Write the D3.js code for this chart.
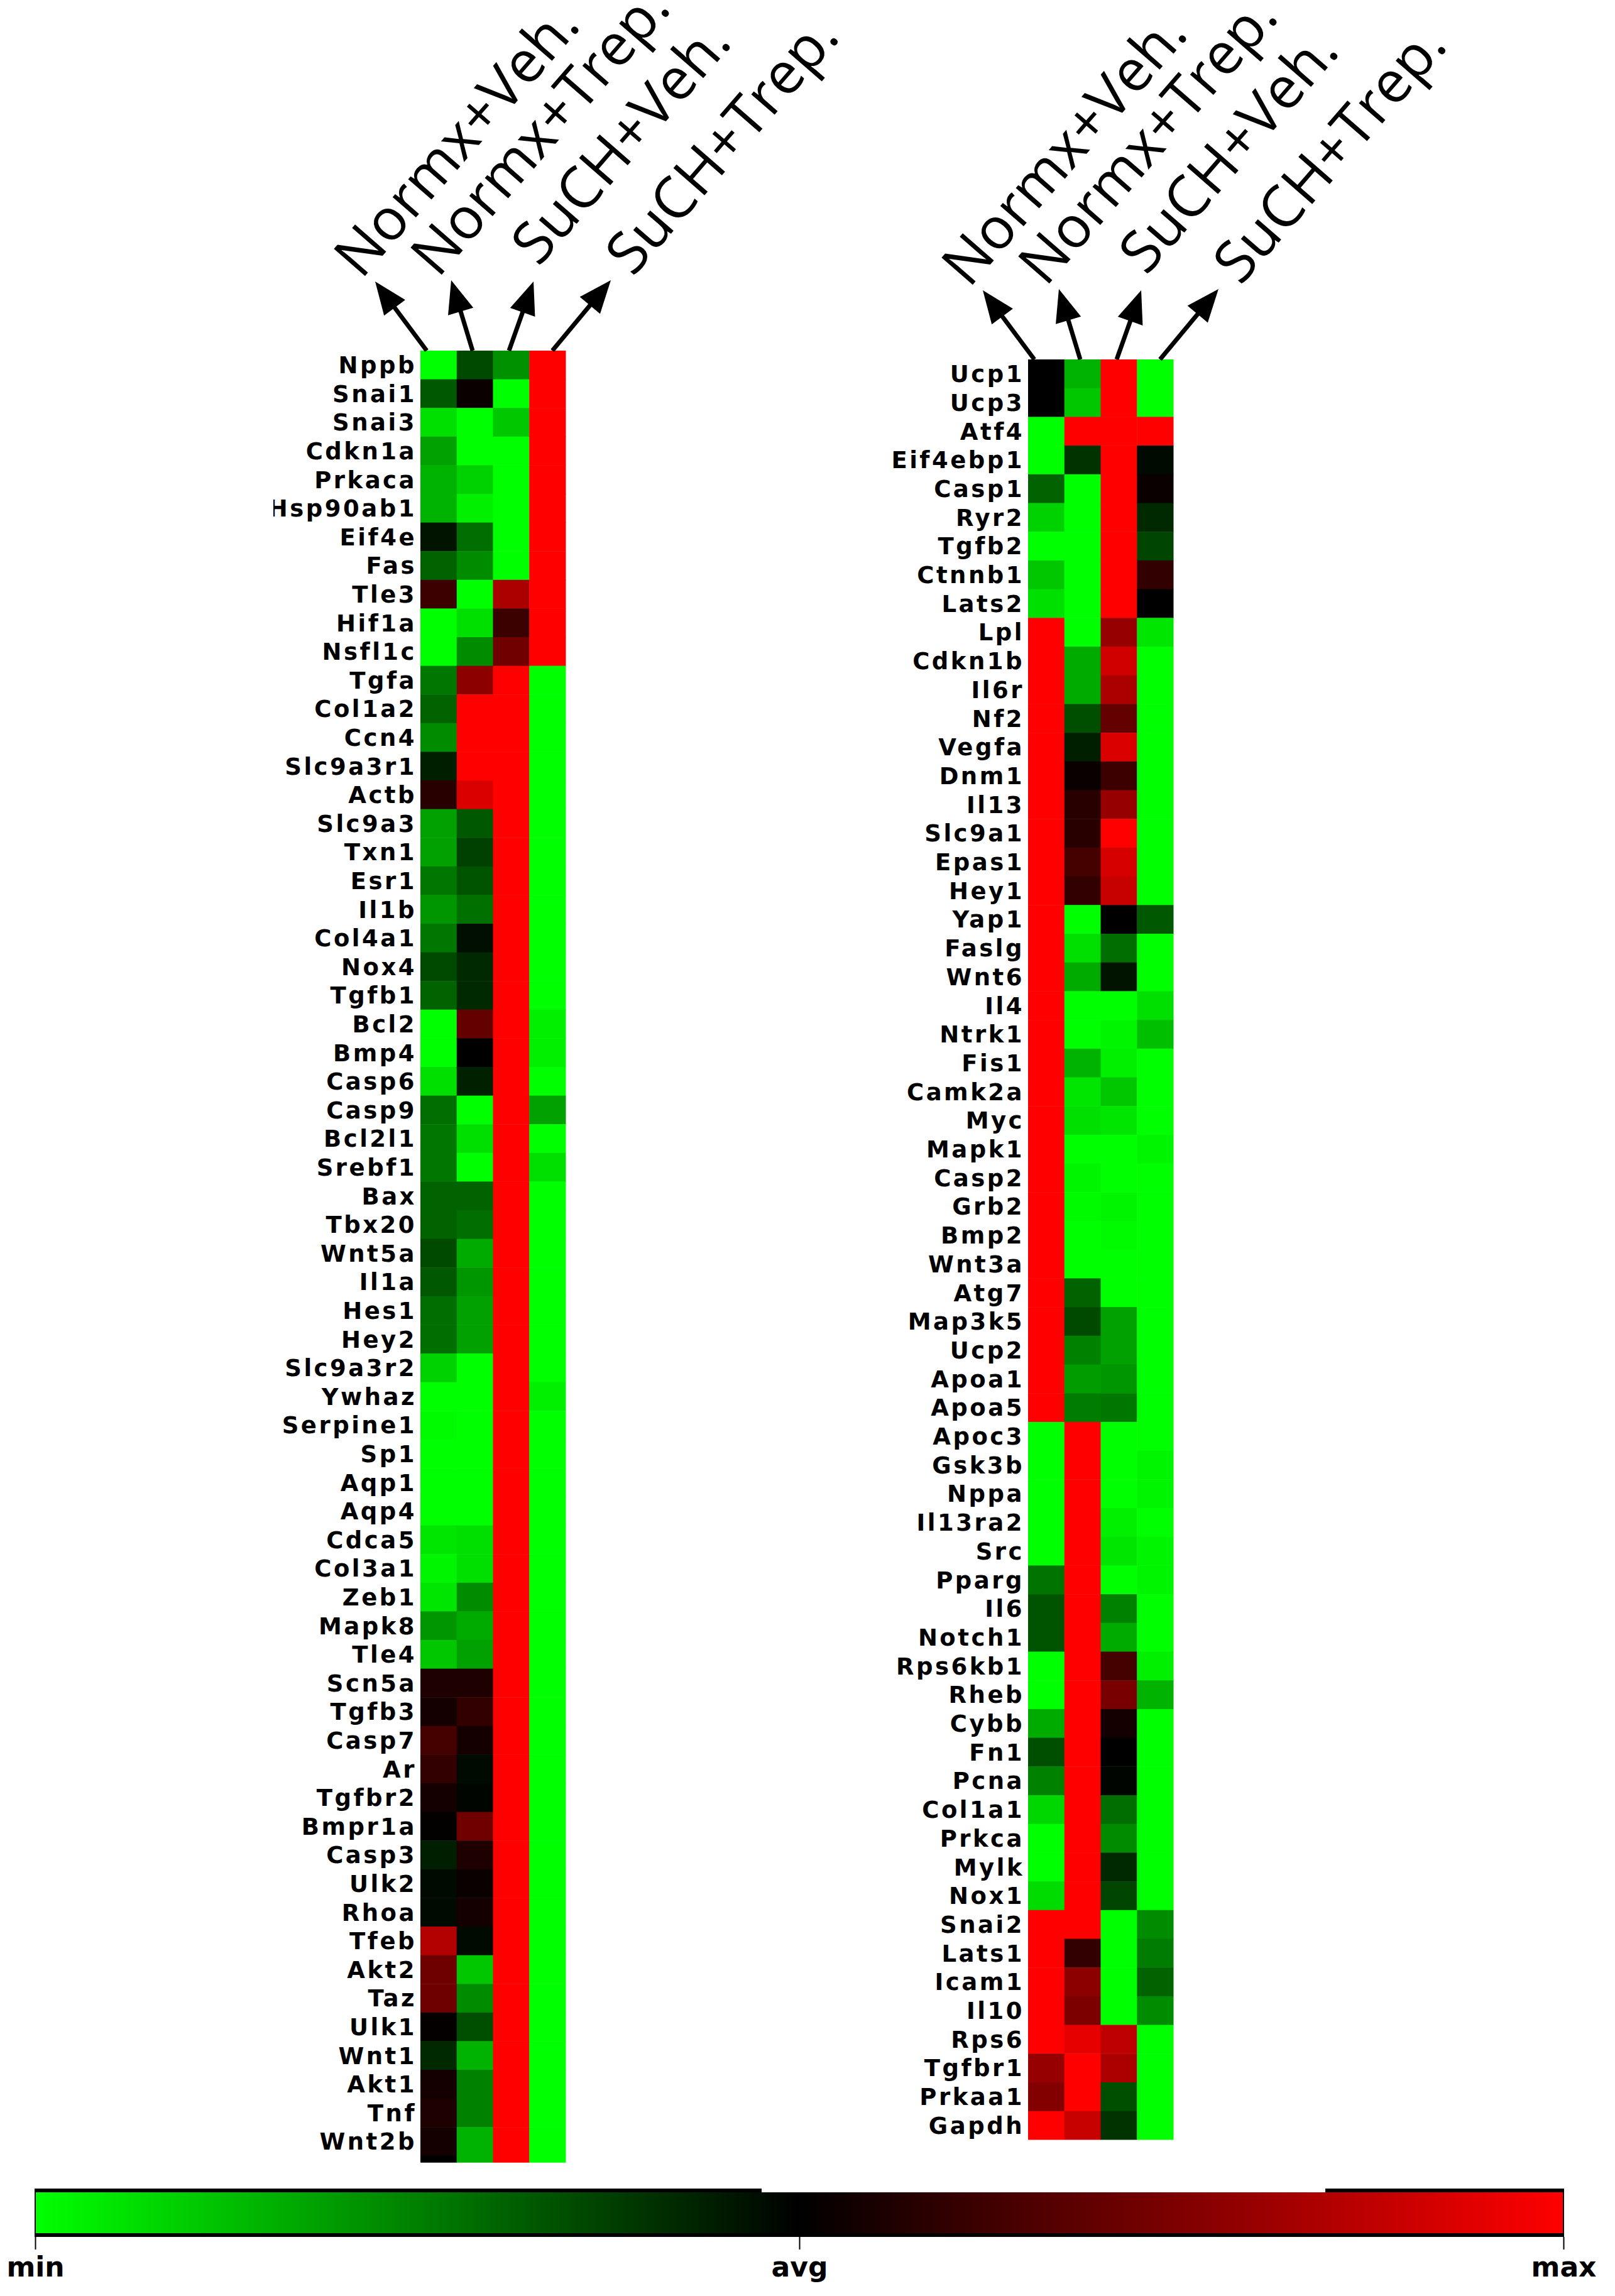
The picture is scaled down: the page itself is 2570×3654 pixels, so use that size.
<!DOCTYPE html>
<html>
  <head>
    <title>heatmap</title>
    <meta charset="utf-8" />
    <script src="https://d3js.org/d3.v7.min.js"></script>
    <style>
      body { margin: 0; background: #fff; }
    </style>
  </head>
  <body>
    <div id="chart"></div>
    <script>
      // condition columns (same for both panels)
      var conditions = ["Normx+Veh.", "Normx+Trep.", "SuCH+Veh.", "SuCH+Trep."];

      // left panel genes (last row is cut off in the original)
      var leftGenes = ["Nppb", "Snai1", "Snai3", "Cdkn1a", "Prkaca", "Hsp90ab1", "Eif4e", "Fas", "Tle3", "Hif1a",
        "Nsfl1c", "Tgfa", "Col1a2", "Ccn4", "Slc9a3r1", "Actb", "Slc9a3", "Txn1", "Esr1", "Il1b",
        "Col4a1", "Nox4", "Tgfb1", "Bcl2", "Bmp4", "Casp6", "Casp9", "Bcl2l1", "Srebf1", "Bax",
        "Tbx20", "Wnt5a", "Il1a", "Hes1", "Hey2", "Slc9a3r2", "Ywhaz", "Serpine1", "Sp1", "Aqp1",
        "Aqp4", "Cdca5", "Col3a1", "Zeb1", "Mapk8", "Tle4", "Scn5a", "Tgfb3", "Casp7", "Ar",
        "Tgfbr2", "Bmpr1a", "Casp3", "Ulk2", "Rhoa", "Tfeb", "Akt2", "Taz", "Ulk1", "Wnt1",
        "Akt1", "Tnf", "Wnt2b", ""];

      // values: -1 = min (green), 0 = avg (black), 1 = max (red)
      var leftNormxVeh = [-1, -0.35, -0.88, -0.63, -0.7, -0.7, -0.08, -0.39, 0.24, -1,
        -1, -0.47, -0.39, -0.55, -0.12, 0.16, -0.63, -0.63, -0.47, -0.59,
        -0.47, -0.29, -0.39, -1, -1, -0.88, -0.43, -0.47, -0.47, -0.39,
        -0.39, -0.29, -0.35, -0.43, -0.43, -0.82, -1, -0.98, -1, -1,
        -1, -0.9, -0.96, -0.9, -0.59, -0.78, 0.12, 0.08, 0.27, 0.2,
        0.08, 0.01, -0.12, -0.04, -0.04, 0.7, 0.43, 0.43, 0.02, -0.16,
        0.08, 0.12, 0.08, 0];
      var leftNormxTrep = [-0.29, 0.04, -1, -1, -0.82, -0.94, -0.43, -0.55, -1, -0.88,
        -0.55, 0.55, 1, 1, 1, 0.86, -0.35, -0.25, -0.33, -0.44,
        -0.06, -0.16, -0.16, 0.39, 0, -0.13, -1, -0.88, -1, -0.39,
        -0.43, -0.67, -0.59, -0.63, -0.63, -1, -1, -1, -1, -1,
        -1, -0.88, -0.88, -0.55, -0.67, -0.63, 0.12, 0.2, 0.08, -0.04,
        -0.02, 0.44, 0.12, 0.04, 0.08, -0.04, -0.78, -0.55, -0.31, -0.7,
        -0.51, -0.51, -0.7, -0.7];
      var leftSuchVeh = [-0.57, -1, -0.78, -1, -1, -1, -1, -1, 0.67, 0.23,
        0.44, 1, 1, 1, 1, 1, 1, 1, 1, 1,
        1, 1, 1, 1, 1, 1, 1, 1, 1, 1,
        1, 1, 1, 1, 1, 1, 1, 1, 1, 1,
        1, 1, 1, 1, 1, 1, 1, 1, 1, 1,
        1, 1, 1, 1, 1, 1, 1, 1, 1, 1,
        1, 1, 1, 1];
      var leftSuchTrep = [1, 1, 1, 1, 1, 1, 1, 1, 1, 1,
        1, -1, -1, -1, -1, -1, -1, -1, -1, -1,
        -1, -1, -1, -0.94, -0.94, -1, -0.63, -1, -0.88, -1,
        -1, -1, -1, -1, -1, -1, -0.94, -1, -1, -1,
        -1, -1, -1, -1, -1, -1, -1, -1, -1, -1,
        -1, -1, -1, -1, -1, -1, -1, -1, -1, -1,
        -1, -1, -1, -1];

      // right panel genes
      var rightGenes = ["Ucp1", "Ucp3", "Atf4", "Eif4ebp1", "Casp1", "Ryr2", "Tgfb2", "Ctnnb1", "Lats2", "Lpl",
        "Cdkn1b", "Il6r", "Nf2", "Vegfa", "Dnm1", "Il13", "Slc9a1", "Epas1", "Hey1", "Yap1",
        "Faslg", "Wnt6", "Il4", "Ntrk1", "Fis1", "Camk2a", "Myc", "Mapk1", "Casp2", "Grb2",
        "Bmp2", "Wnt3a", "Atg7", "Map3k5", "Ucp2", "Apoa1", "Apoa5", "Apoc3", "Gsk3b", "Nppa",
        "Il13ra2", "Src", "Pparg", "Il6", "Notch1", "Rps6kb1", "Rheb", "Cybb", "Fn1", "Pcna",
        "Col1a1", "Prkca", "Mylk", "Nox1", "Snai2", "Lats1", "Icam1", "Il10", "Rps6", "Tgfbr1",
        "Prkaa1", "Gapdh"];

      var rightNormxVeh = [0, 0, -1, -1, -0.39, -0.82, -1, -0.78, -0.88, 1,
        1, 1, 1, 1, 1, 1, 1, 1, 1, 1,
        1, 1, 1, 1, 1, 1, 1, 1, 1, 1,
        1, 1, 1, 1, 1, 1, 1, -1, -1, -1,
        -1, -1, -0.45, -0.33, -0.33, -1, -1, -0.67, -0.31, -0.51,
        -0.84, -1, -1, -0.86, 1, 1, 1, 1, 1, 0.59,
        0.51, 1];
      var rightNormxTrep = [-0.7, -0.78, 1, -0.2, -1, -1, -1, -1, -1, -1,
        -0.67, -0.67, -0.31, -0.12, 0.04, 0.16, 0.16, 0.27, 0.2, -1,
        -0.88, -0.67, -1, -1, -0.7, -0.9, -0.88, -1, -0.96, -0.98,
        -1, -1, -0.39, -0.29, -0.51, -0.61, -0.49, 1, 1, 1,
        1, 1, 1, 1, 1, 1, 1, 1, 1, 1,
        1, 1, 1, 1, 1, 0.2, 0.55, 0.49, 0.9, 1,
        1, 0.78];
      var rightSuchVeh = [1, 1, 1, 1, 1, 1, 1, 1, 1, 0.59,
        0.82, 0.67, 0.39, 0.86, 0.24, 0.59, 1, 0.84, 0.78, 0,
        -0.43, -0.08, -1, -0.96, -0.94, -0.78, -0.9, -1, -1, -0.96,
        -0.98, -1, -1, -0.63, -0.63, -0.59, -0.47, -1, -1, -1,
        -0.94, -0.9, -1, -0.51, -0.67, 0.27, 0.47, 0.08, 0, -0.02,
        -0.43, -0.55, -0.16, -0.27, -1, -1, -1, -1, 0.75, 0.67,
        -0.31, -0.2];
      var rightSuchTrep = [-1, -1, 1, -0.04, 0.04, -0.16, -0.27, 0.2, 0, -0.9,
        -1, -1, -1, -1, -1, -1, -1, -1, -1, -0.35,
        -1, -1, -0.88, -0.75, -1, -1, -1, -0.96, -1, -1,
        -1, -1, -1, -1, -1, -1, -1, -1, -0.96, -0.96,
        -1, -0.96, -0.96, -1, -1, -0.94, -0.7, -1, -1, -1,
        -1, -1, -1, -1, -0.55, -0.49, -0.39, -0.55, -1, -1,
        -1, -1];

      // colour bar ticks
      var barTicks = [-1, 0, 1];
      var barLabels = ["min", "avg", "max"];

      var W = 2570, H = 3654;
      var panelW = 231;

      var svg = d3.select("#chart").append("svg")
        .attr("width", W).attr("height", H)
        .style("font-family", "DejaVu Sans");

      var color = d3.scaleLinear().domain([-1, 0, 1]).range(["#00ff00", "#000000", "#ff0000"]);

      // arrows and header text, relative to the panel's top-left corner
      var arrowTails = [[10, 0], [83, 0], [141, 0], [210, 0]];
      var arrowTips = [[-72, -110], [49, -112], [180, -110], [303, -112]];
      var labelStarts = [[-94, -112], [28, -114], [188, -132], [338, -116]];

      var defs = svg.append("defs");

      function drawPanel(id, genes, cols, x0, y0, rowH, visibleH, labelClipX) {
        var g = svg.append("g").attr("transform", "translate(" + x0 + "," + y0 + ")");

        var x = d3.scaleBand().domain(d3.range(cols.length)).range([0, panelW]);
        var y = d3.scaleBand().domain(d3.range(genes.length)).range([0, genes.length * rowH]);

        defs.append("clipPath").attr("id", id)
          .append("rect").attr("x", labelClipX).attr("y", -5)
          .attr("width", panelW - labelClipX + 10).attr("height", visibleH + 5);

        var body = g.append("g").attr("clip-path", "url(#" + id + ")");

        var cells = [];
        cols.forEach(function (col, c) {
          col.forEach(function (v, r) { cells.push({ c: c, r: r, v: v }); });
        });

        body.selectAll("rect.cell").data(cells).enter().append("rect")
          .attr("class", "cell")
          .attr("x", function (d) { return x(d.c); })
          .attr("y", function (d) { return y(d.r); })
          .attr("width", x.bandwidth() + 0.5)
          .attr("height", y.bandwidth() + 0.5)
          .attr("fill", function (d) { return color(d.v); });

        body.selectAll("text.gene").data(genes).enter().append("text")
          .attr("class", "gene")
          .attr("x", -6)
          .attr("y", function (d, i) { return y(i) + y.bandwidth() / 2; })
          .attr("dy", "0.36em")
          .attr("text-anchor", "end")
          .style("font-size", "37px")
          .style("font-weight", "bold")
          .style("letter-spacing", "3.5px")
          .text(function (d) { return d; });

        // arrows
        conditions.forEach(function (name, i) {
          var t0 = arrowTails[i], t1 = arrowTips[i];
          var dx = t1[0] - t0[0], dy = t1[1] - t0[1];
          var len = Math.sqrt(dx * dx + dy * dy);
          var ux = dx / len, uy = dy / len;
          var hl = 52, hw = 21;
          var bx = t1[0] - ux * hl, by = t1[1] - uy * hl;
          g.append("line")
            .attr("x1", t0[0]).attr("y1", t0[1])
            .attr("x2", bx + ux * 4).attr("y2", by + uy * 4)
            .attr("stroke", "#000").attr("stroke-width", 7);
          g.append("polygon")
            .attr("points", [
              [t1[0], t1[1]],
              [bx - uy * hw, by + ux * hw],
              [bx + uy * hw, by - ux * hw]
            ].map(function (p) { return p.join(","); }).join(" "))
            .attr("fill", "#000");

          var s = labelStarts[i];
          g.append("text")
            .attr("transform", "translate(" + s[0] + "," + s[1] + ") rotate(-49)")
            .style("font-family", "Open Sans")
            .style("font-size", "92px")
            .text(name);
        });
      }

      drawPanel("clipL", leftGenes, [leftNormxVeh, leftNormxTrep, leftSuchVeh, leftSuchTrep],
        669, 558, 45.6, 63 * 45.6 + 11, -234);
      drawPanel("clipR", rightGenes, [rightNormxVeh, rightNormxTrep, rightSuchVeh, rightSuchTrep],
        1636, 572, 45.7, 62 * 45.7, -600);

      // colour bar
      var bx0 = 56, bx1 = 2488;
      var bar = d3.scaleLinear().domain([-1, 1]).range([bx0, bx1]);

      var grad = defs.append("linearGradient").attr("id", "grad")
        .attr("x1", "0%").attr("x2", "100%").attr("y1", "0%").attr("y2", "0%");
      d3.range(0, 1.0001, 0.05).forEach(function (t) {
        grad.append("stop").attr("offset", t * 100 + "%").attr("stop-color", color(-1 + 2 * t));
      });

      var barTop = 3483, barBottom = 3560;
      svg.append("rect").attr("x", bx0).attr("y", 3489).attr("width", bx1 - bx0).attr("height", 3554 - 3489)
        .attr("fill", "url(#grad)");
      // black frame; the top edge has a gap in the original
      svg.append("rect").attr("x", bx0).attr("y", barTop).attr("width", 1212 - bx0).attr("height", 6).attr("fill", "#000");
      svg.append("rect").attr("x", 2109).attr("y", barTop).attr("width", bx1 - 2109).attr("height", 6).attr("fill", "#000");
      svg.append("rect").attr("x", bx0).attr("y", 3554).attr("width", bx1 - bx0).attr("height", 6).attr("fill", "#000");
      svg.append("rect").attr("x", bx0 - 1).attr("y", barTop).attr("width", 2).attr("height", barBottom - barTop).attr("fill", "#000");
      svg.append("rect").attr("x", bx1 - 1).attr("y", barTop).attr("width", 2).attr("height", barBottom - barTop).attr("fill", "#000");

      var axis = d3.axisBottom(bar)
        .tickValues(barTicks)
        .tickFormat(function (d, i) { return barLabels[i]; })
        .tickSize(20)
        .tickPadding(12);

      var ax = svg.append("g").attr("transform", "translate(0," + barBottom + ")").call(axis);
      ax.select(".domain").remove();
      ax.selectAll(".tick line").attr("stroke", "#000").attr("stroke-width", 2);
      ax.selectAll(".tick text")
        .attr("fill", "#000")
        .style("font-family", "DejaVu Sans")
        .style("font-weight", "bold")
        .style("font-size", "44px");
    </script>
  </body>
</html>
